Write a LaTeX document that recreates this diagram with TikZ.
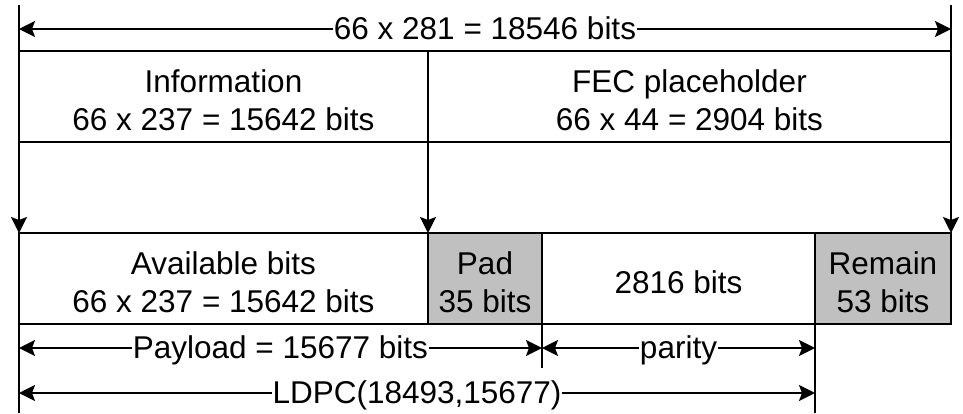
\documentclass[tikz,border=0pt]{standalone}
\usepackage{fontspec}
\setmainfont{Liberation Sans}
\usetikzlibrary{arrows.meta}
\definecolor{padgray}{RGB}{192,192,192}
\begin{document}
\begin{tikzpicture}[x=1pt,y=-1pt,
  every node/.style={font=\fontsize{31.5}{38}\selectfont},
  box/.style={draw, line width=2pt, inner sep=0pt, outer sep=0pt, align=center,
    anchor=north west, minimum height=91pt},
  shaded/.style={box, fill=padgray},
  tip/.style={},
  ln/.style={line width=2pt},
  arr/.style={line width=2pt, -{Stealth[length=16pt,width=16pt,inset=3pt]}},
  dim/.style={line width=2pt, {Stealth[length=16pt,width=16pt,inset=3pt]}-{Stealth[length=16pt,width=16pt,inset=3pt]}},
  lab/.style={fill=white, inner xsep=1pt, inner ysep=0pt, text height=21pt, text depth=0pt}]
\useasboundingbox (0,0) rectangle (963,413);
% boxes
\node[box, minimum width=409pt] (info) at (19,51) {\rule{0pt}{30pt}Information\\66 x 237 = 15642 bits};
\node[box, minimum width=523pt] (fec) at (428,51) {\rule{0pt}{30pt}FEC placeholder\\66 x 44 = 2904 bits};
\node[box, minimum width=409pt] (avail) at (19,233) {\rule{0pt}{30pt}Available bits\\66 x 237 = 15642 bits};
\node[shaded, minimum width=114pt] (pad) at (428,233) {\rule{0pt}{30pt}Pad\\35 bits};
\node[box, minimum width=273pt] (par) at (542,233) {\rule{0pt}{30pt}2816 bits};
\node[shaded, minimum width=136pt] (remain) at (815,233) {\rule{0pt}{30pt}Remain\\53 bits};
% coordinates
\coordinate (tl) at (19,5);
\coordinate (tr) at (951,5);
\coordinate (d1l) at (19,29);
\coordinate (d1r) at (951,29);
\coordinate (bl) at (19,413);
\coordinate (bm) at (542,368);
\coordinate (br) at (815,413);
\coordinate (d2l) at (19,348);
\coordinate (d2m) at (542,348);
\coordinate (d2r) at (815,348);
\coordinate (d3l) at (19,393);
\coordinate (d3r) at (815,393);
% extension lines
\draw[ln] (tl) -- (info.north west);
\draw[ln] (tr) -- (fec.north east);
\draw[arr] (info.south west) -- (avail.north west);
\draw[arr] (info.south east) -- (pad.north west);
\draw[arr] (fec.south east) -- (remain.north east);
\draw[ln] (avail.south west) -- (bl);
\draw[ln] (pad.south east) -- (bm);
\draw[ln] (par.south east) -- (br);
% dimensions
\draw[dim] (d1l) -- node[lab] (t1) {66 x 281 = 18546 bits} (d1r);
\draw[dim] (d2l) -- node[lab] (t2) {Payload = 15677 bits} (d2m);
\draw[dim] (d2m) -- node[lab] (t3) {parity} (d2r);
\draw[dim] (d3l) -- node[lab] (t4) {LDPC(18493,15677)} (d3r);
\end{tikzpicture}
\end{document}
